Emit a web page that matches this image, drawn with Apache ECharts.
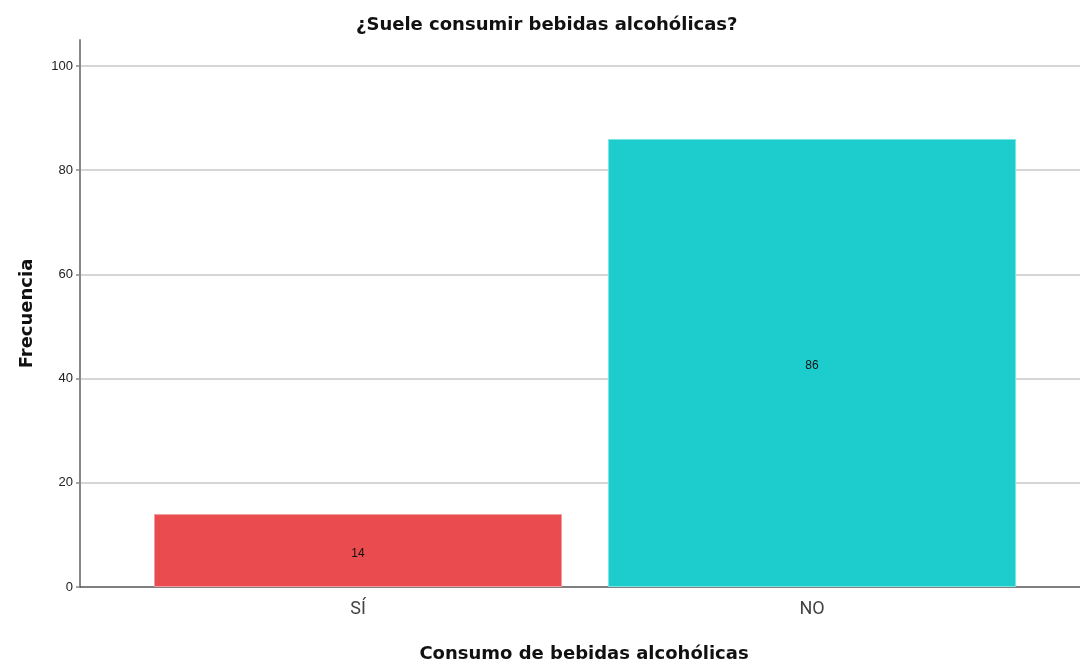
<!DOCTYPE html>
<html>
<head>
<meta charset="utf-8">
<script src="https://cdn.jsdelivr.net/npm/echarts@6/dist/echarts.min.js"></script>
<style>html,body{margin:0;padding:0;background:#fff}#c{width:1080px;height:665px}</style>
</head>
<body>
<div id="c"></div>
<script>
const categories = ['SÍ', 'NO'];
const values = [14, 86];
const barColors = ['#EA4B4F', '#1DCDCD'];
const barBorders = ['#F29A9C', '#7FE3E3'];
const yTicks = [0, 20, 40, 60, 80, 100];

const chart = echarts.init(document.getElementById('c'), null, {renderer: 'canvas'});
const font = '"Liberation Sans", Arial, sans-serif';
const boldFont = '"DejaVu Sans", sans-serif';
chart.setOption({
  animation: false,
  backgroundColor: '#fff',
  title: {
    text: '¿Suele consumir bebidas alcohólicas?',
    left: 351, top: 11,
    textStyle: {fontFamily: boldFont, fontSize: 18, fontWeight: 'bold', color: '#111'}
  },
  grid: {left: 80, right: 0, top: 40, bottom: 78, containLabel: false, outerBoundsMode: 'none'},
  xAxis: {
    type: 'value',
    min: -0.6123, max: 1.5903,
    name: 'Consumo de bebidas alcohólicas',
    nameLocation: 'middle', nameGap: 58,
    nameTextStyle: {fontFamily: boldFont, fontSize: 18, fontWeight: 'bold', color: '#111', padding: [0, 0, 0, 8]},
    axisLine: {show: true, onZero: false, lineStyle: {color: '#555', width: 1.5}},
    axisTick: {show: false},
    splitLine: {show: false},
    axisLabel: {
      customValues: [0, 1],
      formatter: v => categories[Math.round(v)],
      fontFamily: 'Roboto, sans-serif', fontSize: 18, color: '#444', margin: 13
    }
  },
  yAxis: {
    type: 'value',
    min: 0, max: 105, interval: 20,
    name: 'Frecuencia',
    nameLocation: 'middle', nameGap: 44, nameRotate: 90,
    nameTextStyle: {fontFamily: boldFont, fontSize: 18, fontWeight: 'bold', color: '#111'},
    axisLine: {show: true, onZero: false, lineStyle: {color: '#888', width: 2}},
    axisTick: {show: true, length: 4, lineStyle: {color: '#888', width: 1.5}},
    axisLabel: {
      showMaxLabel: false,
      fontFamily: font, fontSize: 13, color: '#222', margin: 7, padding: [5, 0, 0, 0],
      formatter: v => (yTicks.indexOf(v) >= 0 ? String(v) : '')
    },
    splitLine: {show: true, showMaxLine: false, showMinLine: false, lineStyle: {color: '#C8C8C8', width: 1.5}}
  },
  series: [{
    type: 'bar',
    barWidth: 408,
    data: values.map((v, i) => ({
      value: [i, v],
      itemStyle: {color: barColors[i], borderColor: barBorders[i], borderWidth: 1}
    })),
    label: {
      show: true, position: 'inside', offset: [0, 3],
      formatter: p => String(p.value[1]),
      fontFamily: font, fontSize: 12, color: '#111'
    }
  }]
});
</script>
</body>
</html>
